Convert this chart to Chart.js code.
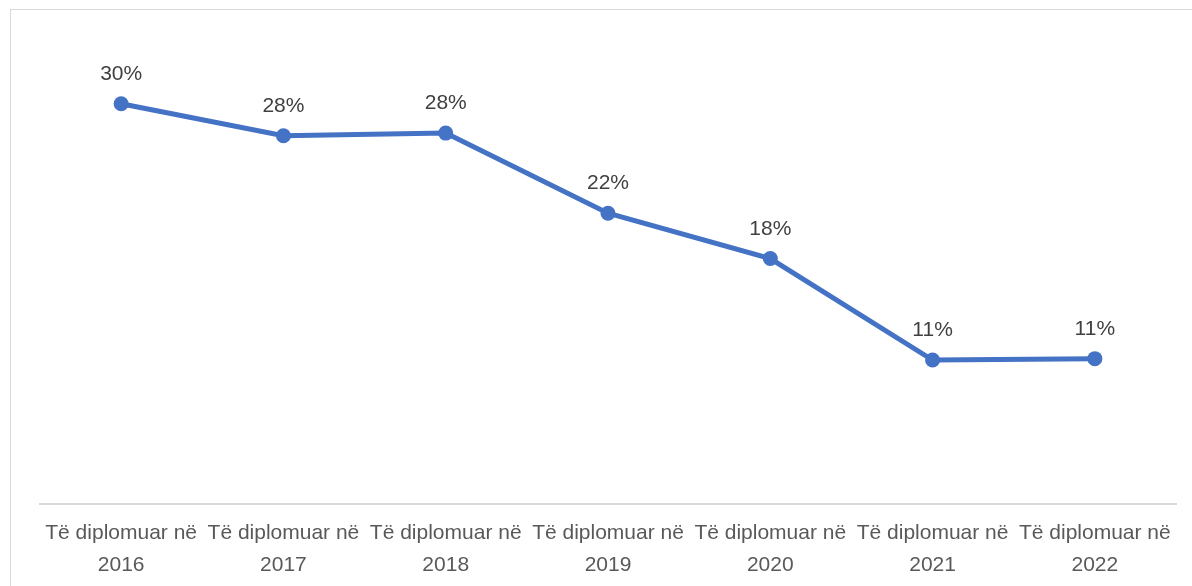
<!DOCTYPE html>
<html>
<head>
<meta charset="utf-8">
<script src="https://cdn.jsdelivr.net/npm/chart.js@4"></script>
<style>
  html, body { margin: 0; padding: 0; background: #ffffff; }
  body { width: 1192px; height: 586px; position: relative; overflow: hidden; }
  #frame { position: absolute; left: 10px; top: 9px; width: 1200px; height: 600px;
           border-left: 1px solid #d9d9d9; border-top: 1px solid #d9d9d9; box-sizing: border-box; }
  #wrap { position: absolute; left: 0; top: 0; width: 1192px; height: 600px; }
</style>
</head>
<body>
<div id="frame"></div>
<div id="wrap"><canvas id="c" width="1192" height="600"></canvas></div>
<script>
const labelPrefix = "Të diplomuar në";
const years = ["2016", "2017", "2018", "2019", "2020", "2021", "2022"];
const shares = [30.0, 27.6, 27.8, 21.8, 18.4, 10.8, 10.9];

const categories = years.map(y => [labelPrefix, y]);

const valueLabels = {
  id: 'valueLabels',
  afterDatasetsDraw(chart) {
    const ctx = chart.ctx;
    const meta = chart.getDatasetMeta(0);
    ctx.save();
    ctx.font = '21px "Liberation Sans", Arial, sans-serif';
    ctx.fillStyle = '#404040';
    ctx.textAlign = 'center';
    ctx.textBaseline = 'alphabetic';
    meta.data.forEach((pt, i) => {
      ctx.fillText(Math.round(shares[i]) + '%', pt.x, pt.y - 24);
    });
    ctx.restore();
  }
};

new Chart(document.getElementById('c'), {
  type: 'line',
  data: {
    labels: categories,
    datasets: [{
      data: shares,
      borderColor: '#4472C4',
      backgroundColor: '#4472C4',
      borderWidth: 5,
      pointRadius: 7.5,
      pointHoverRadius: 7.5,
      pointBackgroundColor: '#4472C4',
      pointBorderColor: '#4472C4',
      pointBorderWidth: 0,
      tension: 0,
      fill: false
    }]
  },
  options: {
    responsive: false,
    animation: false,
    events: [],
    layout: { padding: { left: 40, right: 16, top: 37, bottom: 6 } },
    plugins: { legend: { display: false }, tooltip: { enabled: false } },
    scales: {
      x: {
        offset: true,
        grid: { display: false, drawTicks: false },
        border: { display: true, color: '#d9d9d9', width: 2 },
        ticks: {
          color: '#595959',
          font: { family: '"Liberation Sans", Arial, sans-serif', size: 21, lineHeight: 1.52 },
          padding: 13,
          maxRotation: 0,
          minRotation: 0,
          autoSkip: false
        }
      },
      y: {
        display: false,
        min: 0,
        max: 35
      }
    }
  },
  plugins: [valueLabels]
});
</script>
</body>
</html>
